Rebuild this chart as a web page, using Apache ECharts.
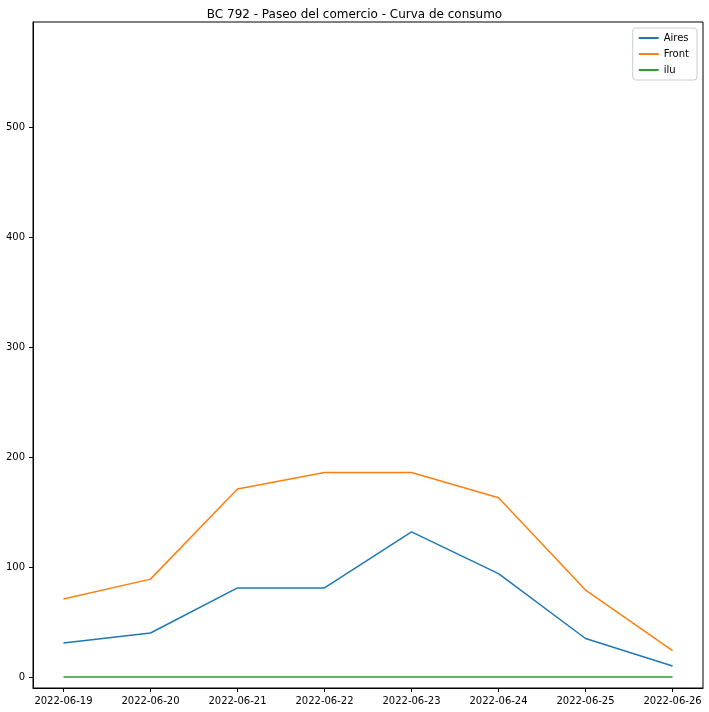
<!DOCTYPE html>
<html><head><meta charset="utf-8">
<script src="https://cdn.jsdelivr.net/npm/echarts@6/dist/echarts.min.js"></script>
<style>html,body{margin:0;padding:0;background:#fff}#c{width:709px;height:712px}</style>
</head><body><div id="c"></div>
<script>
const dates = ['2022-06-19','2022-06-20','2022-06-21','2022-06-22','2022-06-23','2022-06-24','2022-06-25','2022-06-26'];
const aires = [31, 40, 81, 81, 132, 94, 35, 10];
const front = [71, 89, 171, 186, 186, 163, 79, 24];
const ilu = [0, 0, 0, 0, 0, 0, 0, 0];
const yTicks = [0, 100, 200, 300, 400, 500];
const pts = a => a.map((v, i) => [i, v]);
const idx = dates.map((d, i) => i);
const chart = echarts.init(document.getElementById('c'));
const lineAxis = {show: true, onZero: false, lineStyle: {color: '#000', width: 1}};
chart.setOption({
  animation: false,
  title: {text: 'BC 792 - Paseo del comercio - Curva de consumo', left: 'center', top: 4,
    textStyle: {fontFamily: 'DejaVu Sans', fontSize: 12, fontWeight: 'normal', color: '#000'}},
  legend: {orient: 'vertical', right: 12, top: 28, itemWidth: 20, itemHeight: 2, itemGap: 6,
    padding: [5, 8, 5, 6], borderColor: '#ccc', borderWidth: 1, borderRadius: 3, icon: 'rect',
    textStyle: {fontFamily: 'DejaVu Sans', fontSize: 10, color: '#000'},
    data: ['Aires', 'Front', 'ilu']},
  grid: {left: 33, right: 6, top: 22, bottom: 24, show: true, borderColor: '#000', borderWidth: 1},
  xAxis: {type: 'value', min: -0.35, max: 7.35, splitLine: {show: false},
    axisLine: lineAxis,
    axisTick: {show: true, customValues: idx, length: 4, lineStyle: {color: '#000'}},
    axisLabel: {customValues: idx, formatter: v => dates[Math.round(v)], color: '#000', fontFamily: 'DejaVu Sans', fontSize: 10}},
  yAxis: {type: 'value', min: -10, max: 595.5, splitLine: {show: false},
    axisLine: lineAxis,
    axisTick: {show: true, customValues: yTicks, length: 4, lineStyle: {color: '#000'}},
    axisLabel: {customValues: yTicks, color: '#000', fontFamily: 'DejaVu Sans', fontSize: 10}},
  series: [
    {name: 'Aires', type: 'line', data: pts(aires), showSymbol: false, lineStyle: {width: 1.5, color: '#1f77b4'}, itemStyle: {color: '#1f77b4'}},
    {name: 'Front', type: 'line', data: pts(front), showSymbol: false, lineStyle: {width: 1.5, color: '#ff7f0e'}, itemStyle: {color: '#ff7f0e'}},
    {name: 'ilu', type: 'line', data: pts(ilu), showSymbol: false, lineStyle: {width: 1.5, color: '#2ca02c'}, itemStyle: {color: '#2ca02c'}}
  ]
});
</script></body></html>
